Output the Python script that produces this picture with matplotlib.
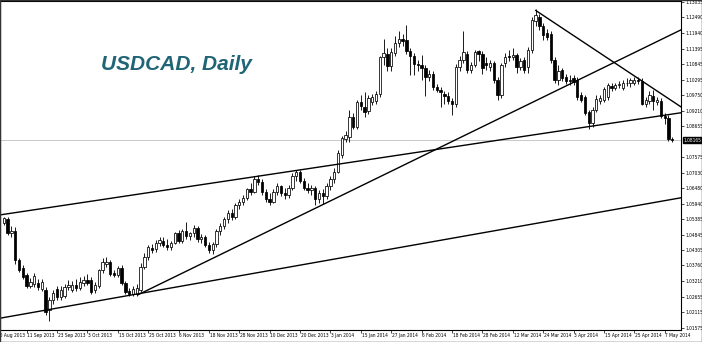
"""
USDCAD daily candlestick chart with hand-drawn trend lines (MT4 style).
"""

import matplotlib
matplotlib.use("Agg")
import matplotlib.pyplot as plt
import matplotlib.transforms as mtransforms
from matplotlib.patches import Rectangle
import numpy as np
import pandas as pd

# ── Data: daily OHLC, 3 Sep 2013 .. 9 May 2014 ────────────────────────────────
opens = [
    1.0526, 1.0538, 1.0491, 1.0497, 1.0395, 1.0367, 1.0342, 1.0303, 1.0310, 1.0314,
    1.0292, 1.0290, 1.0220, 1.0255, 1.0293, 1.0265, 1.0270, 1.0302, 1.0290, 1.0307,
    1.0297, 1.0316, 1.0325, 1.0325, 1.0290, 1.0303, 1.0360, 1.0380, 1.0388, 1.0350,
    1.0342, 1.0367, 1.0314, 1.0285, 1.0276, 1.0275, 1.0290, 1.0371, 1.0405, 1.0436,
    1.0433, 1.0455, 1.0462, 1.0448, 1.0440, 1.0455, 1.0490, 1.0462, 1.0498, 1.0480,
    1.0490, 1.0508, 1.0470, 1.0478, 1.0447, 1.0432, 1.0452, 1.0498, 1.0515, 1.0538,
    1.0560, 1.0545, 1.0588, 1.0600, 1.0615, 1.0645, 1.0635, 1.0680, 1.0670, 1.0635,
    1.0610, 1.0600, 1.0635, 1.0655, 1.0630, 1.0625, 1.0650, 1.0690, 1.0705, 1.0675,
    1.0650, 1.0640, 1.0650, 1.0610, 1.0630, 1.0620, 1.0655, 1.0680, 1.0705, 1.0765,
    1.0822, 1.0830, 1.0900, 1.0865, 1.0950, 1.0935, 1.0920, 1.0950, 1.0955, 1.0980,
    1.1110, 1.1120, 1.1078, 1.1125, 1.1160, 1.1172, 1.1170, 1.1130, 1.1115, 1.1085,
    1.1082, 1.1070, 1.1040, 1.1050, 1.1005, 1.0995, 1.0978, 1.0972, 1.0955, 1.0945,
    1.1075, 1.1100, 1.1120, 1.1065, 1.1082, 1.1130, 1.1122, 1.1090, 1.1075, 1.1090,
    1.1030, 1.0976, 1.1090, 1.1113, 1.1110, 1.1117, 1.1075, 1.1100, 1.1075, 1.1135,
    1.1235, 1.1250, 1.1220, 1.1195, 1.1190, 1.1100, 1.1030, 1.1063, 1.1040, 1.1030,
    1.1035, 1.1030, 1.0975, 1.0968, 1.0915, 1.0878, 1.0925, 1.0955, 1.0960, 1.0970,
    1.1008, 1.1000, 1.1012, 1.1000, 1.1020, 1.1018, 1.1020, 1.1028, 1.1025, 1.0945,
    1.0955, 1.0972, 1.0950, 1.0955, 1.0902, 1.0895, 1.0822,
]
highs = [
    1.0547, 1.0545, 1.0515, 1.0512, 1.0402, 1.0378, 1.0350, 1.0332, 1.0350, 1.0330,
    1.0330, 1.0300, 1.0265, 1.0290, 1.0305, 1.0305, 1.0310, 1.0325, 1.0320, 1.0330,
    1.0335, 1.0340, 1.0345, 1.0335, 1.0318, 1.0365, 1.0402, 1.0405, 1.0395, 1.0360,
    1.0375, 1.0378, 1.0320, 1.0295, 1.0305, 1.0310, 1.0385, 1.0420, 1.0448, 1.0450,
    1.0465, 1.0475, 1.0478, 1.0470, 1.0462, 1.0495, 1.0502, 1.0505, 1.0530, 1.0495,
    1.0520, 1.0515, 1.0488, 1.0485, 1.0458, 1.0460, 1.0505, 1.0525, 1.0545, 1.0570,
    1.0575, 1.0595, 1.0610, 1.0625, 1.0650, 1.0665, 1.0690, 1.0695, 1.0680, 1.0645,
    1.0630, 1.0645, 1.0665, 1.0660, 1.0650, 1.0660, 1.0700, 1.0712, 1.0712, 1.0685,
    1.0665, 1.0660, 1.0655, 1.0640, 1.0645, 1.0665, 1.0690, 1.0720, 1.0782, 1.0832,
    1.0850, 1.0925, 1.0912, 1.0960, 1.0975, 1.0985, 1.0975, 1.0980, 1.0990, 1.1115,
    1.1172, 1.1140, 1.1140, 1.1185, 1.1200, 1.1190, 1.1223, 1.1140, 1.1125, 1.1100,
    1.1117, 1.1080, 1.1065, 1.1060, 1.1015, 1.1005, 1.0990, 1.0985, 1.0965, 1.1085,
    1.1115, 1.1200, 1.1130, 1.1092, 1.1135, 1.1135, 1.1130, 1.1110, 1.1100, 1.1095,
    1.1040, 1.1090, 1.1125, 1.1135, 1.1140, 1.1125, 1.1105, 1.1110, 1.1145, 1.1250,
    1.1278, 1.1260, 1.1230, 1.1210, 1.1200, 1.1110, 1.1080, 1.1070, 1.1050, 1.1045,
    1.1045, 1.1040, 1.0985, 1.0975, 1.0925, 1.0935, 1.0975, 1.0975, 1.1005, 1.1020,
    1.1020, 1.1020, 1.1025, 1.1030, 1.1035, 1.1035, 1.1040, 1.1040, 1.1035, 1.0970,
    1.0990, 1.0995, 1.0970, 1.0965, 1.0912, 1.0905, 1.0830,
]
lows = [
    1.0519, 1.0484, 1.0478, 1.0382, 1.0352, 1.0328, 1.0298, 1.0296, 1.0300, 1.0290,
    1.0285, 1.0200, 1.0180, 1.0240, 1.0255, 1.0255, 1.0262, 1.0288, 1.0282, 1.0285,
    1.0290, 1.0305, 1.0308, 1.0275, 1.0280, 1.0298, 1.0350, 1.0370, 1.0340, 1.0335,
    1.0335, 1.0308, 1.0275, 1.0270, 1.0270, 1.0268, 1.0282, 1.0365, 1.0395, 1.0420,
    1.0425, 1.0445, 1.0440, 1.0432, 1.0430, 1.0450, 1.0455, 1.0455, 1.0470, 1.0465,
    1.0478, 1.0460, 1.0455, 1.0440, 1.0420, 1.0418, 1.0440, 1.0485, 1.0505, 1.0525,
    1.0535, 1.0540, 1.0575, 1.0590, 1.0605, 1.0625, 1.0630, 1.0660, 1.0625, 1.0600,
    1.0590, 1.0595, 1.0625, 1.0620, 1.0610, 1.0615, 1.0640, 1.0675, 1.0665, 1.0640,
    1.0630, 1.0625, 1.0590, 1.0595, 1.0592, 1.0610, 1.0640, 1.0665, 1.0700, 1.0755,
    1.0810, 1.0810, 1.0855, 1.0855, 1.0925, 1.0900, 1.0910, 1.0940, 1.0945, 1.0970,
    1.1080, 1.1060, 1.1060, 1.1115, 1.1145, 1.1150, 1.1120, 1.1045, 1.1045, 1.1060,
    1.1030, 1.0973, 1.1025, 1.0995, 1.0985, 1.0935, 1.0945, 1.0945, 1.0906, 1.0935,
    1.1060, 1.1090, 1.1055, 1.1055, 1.1075, 1.1095, 1.1050, 1.1065, 1.1060, 1.1020,
    1.0960, 1.0965, 1.1075, 1.1095, 1.1100, 1.1055, 1.1065, 1.1055, 1.1055, 1.1125,
    1.1220, 1.1205, 1.1170, 1.1170, 1.1090, 1.1020, 1.1010, 1.1025, 1.1015, 1.1010,
    1.1012, 1.0958, 1.0950, 1.0905, 1.0858, 1.0862, 1.0915, 1.0945, 1.0950, 1.0960,
    1.0990, 1.0995, 1.1000, 1.0995, 1.1008, 1.1005, 1.1010, 1.1015, 1.0940, 1.0935,
    1.0945, 1.0922, 1.0940, 1.0895, 1.0875, 1.0815, 1.0810,
]
closes = [
    1.0543, 1.0491, 1.0498, 1.0395, 1.0360, 1.0335, 1.0303, 1.0317, 1.0338, 1.0300,
    1.0317, 1.0212, 1.0255, 1.0280, 1.0265, 1.0290, 1.0300, 1.0306, 1.0307, 1.0297,
    1.0318, 1.0325, 1.0316, 1.0283, 1.0307, 1.0360, 1.0388, 1.0390, 1.0345, 1.0342,
    1.0367, 1.0314, 1.0283, 1.0276, 1.0292, 1.0295, 1.0371, 1.0406, 1.0440, 1.0431,
    1.0455, 1.0464, 1.0448, 1.0440, 1.0455, 1.0490, 1.0462, 1.0498, 1.0480, 1.0490,
    1.0508, 1.0470, 1.0478, 1.0447, 1.0432, 1.0452, 1.0498, 1.0515, 1.0538, 1.0560,
    1.0545, 1.0588, 1.0600, 1.0615, 1.0645, 1.0635, 1.0680, 1.0670, 1.0635, 1.0610,
    1.0600, 1.0635, 1.0655, 1.0630, 1.0625, 1.0650, 1.0690, 1.0705, 1.0675, 1.0650,
    1.0640, 1.0650, 1.0610, 1.0630, 1.0620, 1.0655, 1.0680, 1.0705, 1.0772, 1.0825,
    1.0835, 1.0900, 1.0865, 1.0950, 1.0938, 1.0918, 1.0965, 1.0968, 1.0980, 1.1110,
    1.1125, 1.1078, 1.1127, 1.1160, 1.1172, 1.1166, 1.1130, 1.1112, 1.1085, 1.1080,
    1.1072, 1.1040, 1.1050, 1.1005, 1.0995, 1.0985, 1.0972, 1.0955, 1.0945, 1.1075,
    1.1100, 1.1128, 1.1065, 1.1082, 1.1127, 1.1122, 1.1070, 1.1080, 1.1090, 1.1028,
    1.0975, 1.1082, 1.1110, 1.1110, 1.1117, 1.1075, 1.1095, 1.1065, 1.1135, 1.1240,
    1.1258, 1.1218, 1.1187, 1.1180, 1.1100, 1.1030, 1.1060, 1.1035, 1.1025, 1.1025,
    1.1022, 1.0970, 1.0960, 1.0912, 1.0877, 1.0925, 1.0962, 1.0965, 1.0997, 1.1010,
    1.1000, 1.1012, 1.1015, 1.1018, 1.1017, 1.1028, 1.1030, 1.1025, 1.0945, 1.0960,
    1.0975, 1.0955, 1.0958, 1.0902, 1.0895, 1.0822, 1.08165,
]

last_price = 1.08165

# right-hand price scale
price_ticks = [1.13035, 1.12490, 1.11940, 1.11395, 1.10845, 1.10295, 1.09750,
               1.09210, 1.08655, 1.07575, 1.07030, 1.06480, 1.05940, 1.05385,
               1.04845, 1.04305, 1.03760, 1.03210, 1.02655, 1.02115, 1.01575]

# date scale (every 8th bar)
date_labels = ["30 Aug 2013", "11 Sep 2013", "23 Sep 2013", "3 Oct 2013",
               "15 Oct 2013", "25 Oct 2013", "6 Nov 2013", "18 Nov 2013",
               "28 Nov 2013", "10 Dec 2013", "20 Dec 2013", "3 Jan 2014",
               "15 Jan 2014", "27 Jan 2014", "6 Feb 2014", "18 Feb 2014",
               "28 Feb 2014", "12 Mar 2014", "24 Mar 2014", "3 Apr 2014",
               "15 Apr 2014", "25 Apr 2014", "7 May 2014"]

# trend lines: (bar index, price) pairs
trendlines = [
    ((0.0, 1.0188), (181.0, 1.0616)),    # lower channel
    ((0.0, 1.0552), (181.0, 1.0915)),    # upper channel
    ((37.2, 1.0272), (181.0, 1.1210)),   # steep support
    ((141.9, 1.1275), (181.0, 1.0928)),  # falling resistance
]

# trading days (no bars on 25 Dec / 1 Jan)
days = pd.bdate_range("2013-08-30", "2014-05-09")
days = days.drop(pd.to_datetime(["2013-12-25", "2014-01-01"]))
first_bar = days.get_loc(pd.Timestamp("2013-09-03"))

AXIS_FONT = dict(family=["Liberation Sans Narrow", "DejaVu Sans"],
                 stretch="condensed", size=3.5)


def main():
    o = np.array(opens)
    h = np.array(highs)
    l = np.array(lows)
    c = np.array(closes)
    x = np.arange(len(c)) + first_bar

    fig = plt.figure(figsize=(7.02, 3.42), dpi=100)
    ax = fig.add_axes([0.0007, 0.0351, 0.9694, 0.9620])
    ax.set_facecolor("white")

    # ── candles ──────────────────────────────────────────────────────────────
    ax.vlines(x, l, h, color="#1a1a1a", linewidth=0.7, zorder=2)
    up = c >= o
    ax.bar(x, np.abs(c - o), bottom=np.minimum(o, c), width=0.62,
           color=np.where(up, "white", "black"), edgecolor="black",
           linewidth=0.55, zorder=3)

    # ── current price line ──────────────────────────────────────────────────
    ax.axhline(last_price, color="#c8c8c8", linewidth=0.7, zorder=1)

    # ── trend lines ─────────────────────────────────────────────────────────
    for (x0, y0), (x1, y1) in trendlines:
        ax.plot([x0, x1], [y0, y1], color="black", linewidth=1.0, zorder=4,
                solid_capstyle="butt")

    ax.set_xlim(1.13, 180.3)
    ax.set_ylim(1.01489, 1.1307)

    # ── price scale on the right ────────────────────────────────────────────
    ax.yaxis.tick_right()
    ax.set_yticks(price_ticks)
    ax.set_yticklabels([f"{p:.5f}" for p in price_ticks], fontdict=AXIS_FONT)
    ax.tick_params(axis="y", length=2, width=0.5, pad=1, colors="black")

    trans = mtransforms.blended_transform_factory(ax.transAxes, ax.transData)
    ax.text(1.004, last_price, f"{last_price:.5f}", transform=trans,
            ha="left", va="center", color="white", zorder=6,
            bbox=dict(boxstyle="square,pad=0.12", fc="black", ec="black"),
            **AXIS_FONT)

    # ── date scale ──────────────────────────────────────────────────────────
    pos = [days.get_loc(pd.Timestamp(d)) for d in date_labels]
    ax.set_xticks([p for p in pos if p >= 1.13])
    ax.set_xticklabels([])
    ax.tick_params(axis="x", length=2, width=0.5)
    xtrans = mtransforms.blended_transform_factory(ax.transData, ax.transAxes)
    for p, lab in zip(pos, date_labels):
        ax.text(p + 0.2, -0.008, lab, transform=xtrans, ha="left", va="top",
                clip_on=False, **AXIS_FONT)

    for s in ax.spines.values():
        s.set_color("black")
        s.set_linewidth(0.8)

    # ── title ───────────────────────────────────────────────────────────────
    ax.text(0.147, 0.79, "USDCAD, Daily", transform=ax.transAxes,
            fontsize=15, fontweight="bold", fontstyle="italic",
            family=["Liberation Sans", "DejaVu Sans"], color="#1f6575",
            va="baseline", ha="left", zorder=5)

    fig.patches.append(Rectangle((0, 0), 1, 1, transform=fig.transFigure,
                                 fill=False, edgecolor="#333333", linewidth=1.0))

    fig.savefig("out.png", dpi=100)


if __name__ == "__main__":
    main()
